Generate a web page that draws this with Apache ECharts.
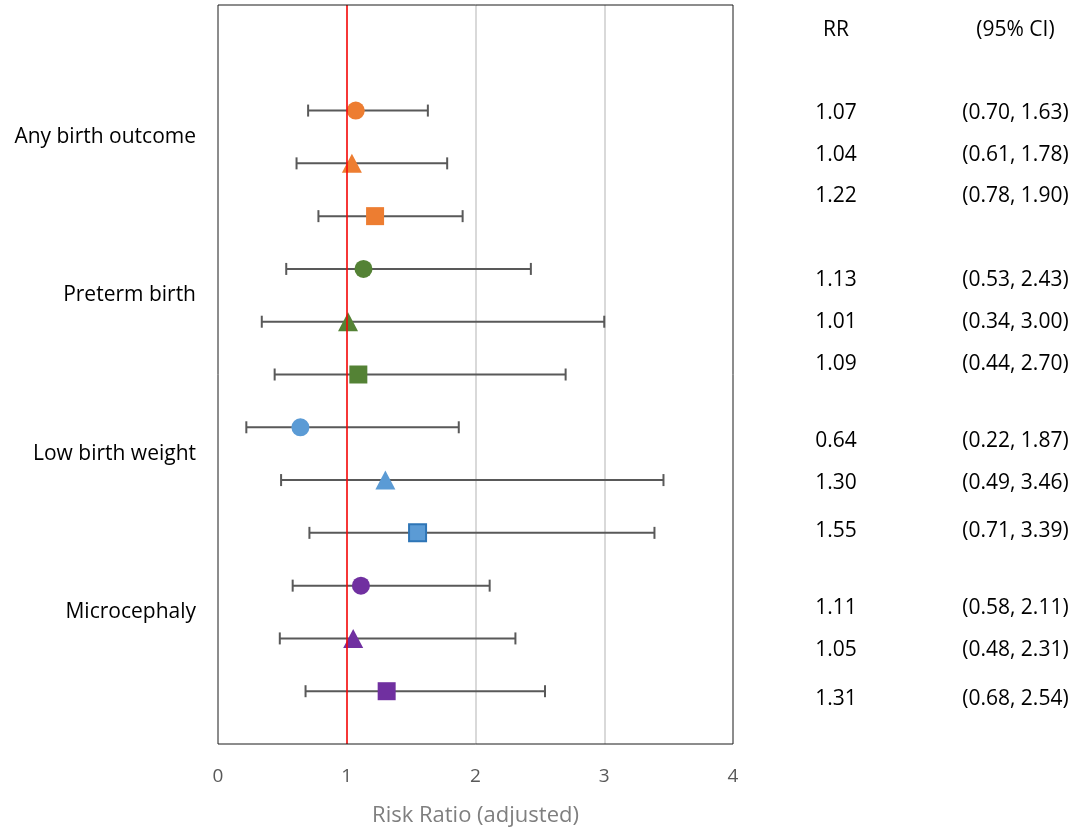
<!DOCTYPE html>
<html>
<head>
<meta charset="utf-8">
<script src="https://cdn.jsdelivr.net/npm/echarts@6/dist/echarts.min.js"></script>
<style>
html,body{margin:0;padding:0;background:#fff}
#main{width:1078px;height:832px}
</style>
</head>
<body>
<div id="main"></div>
<script>
// forest plot: risk ratios with 95% CI
var groups = ['Any birth outcome', 'Preterm birth', 'Low birth weight', 'Microcephaly'];
var groupPos = [11.5, 8.5, 5.5, 2.5];
var rowPos = [12, 11, 10, 9, 8, 7, 6, 5, 4, 3, 2, 1];
var rr    = [1.07, 1.04, 1.22, 1.13, 1.01, 1.09, 0.64, 1.30, 1.55, 1.11, 1.05, 1.31];
var lower = [0.70, 0.61, 0.78, 0.53, 0.34, 0.44, 0.22, 0.49, 0.71, 0.58, 0.48, 0.68];
var upper = [1.63, 1.78, 1.90, 2.43, 3.00, 2.70, 1.87, 3.46, 3.39, 2.11, 2.31, 2.54];
var shapes = ['circle', 'triangle', 'rect'];
var colors = ['#ED7D31', '#548235', '#5B9BD5', '#7030A0'];
var xTicks = [0, 1, 2, 3, 4];
// vertical spots of the right-hand table text
var tablePos = [11.95, 11.16, 10.38, 8.79, 7.995, 7.2, 5.74, 4.945, 4.036, 2.58, 1.78, 0.85];
var headerPos = 13.53;

var FONT = '"Open Sans"';

var myChart = echarts.init(document.getElementById('main'));

function fmt(v) { return v.toFixed(2); }

var barData = [], pointData = [], tableData = [];
for (var i = 0; i < rr.length; i++) {
    var g = Math.floor(i / 3);
    var s = i % 3;
    barData.push([lower[i], upper[i], rowPos[i]]);
    var item = {
        value: [rr[i], rowPos[i]],
        symbol: shapes[s],
        symbolSize: s === 1 ? [20, 19] : 18,
        itemStyle: { color: colors[g], opacity: 1 }
    };
    if (g === 2 && s === 2) {
        item.itemStyle.borderColor = '#2E75B6';
        item.itemStyle.borderWidth = 2;
        item.symbolSize = 17;
    }
    pointData.push(item);
    tableData.push([0.188, tablePos[i], fmt(rr[i])]);
    tableData.push([0.79, tablePos[i], '(' + fmt(lower[i]) + ', ' + fmt(upper[i]) + ')']);
}
tableData.push([0.188, headerPos, 'RR']);
tableData.push([0.79, headerPos, '(95% CI)']);

var groupData = groups.map(function (name, k) { return [0, groupPos[k], name]; });

var option = {
    animation: false,
    grid: [
        { left: 218, top: 5, width: 515, height: 739, show: true, borderColor: '#1a1a1a', borderWidth: 1, z: 6 },
        { left: 780, top: 5, width: 298, height: 739 }
    ],
    xAxis: [{
        gridIndex: 0, type: 'value', min: 0, max: 4, interval: 1,
        axisLine: { show: false }, axisTick: { show: false },
        axisLabel: {
            margin: 23, fontFamily: FONT, fontSize: 19, color: '#595959',
            formatter: function (v) { return xTicks.indexOf(v) >= 0 ? String(v) : ''; }
        },
        splitLine: { show: true, showMinLine: false, showMaxLine: false, lineStyle: { color: '#D9D9D9', width: 2 } },
        name: 'Risk Ratio (adjusted)', nameLocation: 'middle', nameGap: 61,
        nameTextStyle: { fontFamily: FONT, fontSize: 22, color: '#7F7F7F' }
    }, {
        gridIndex: 1, type: 'value', min: 0, max: 1, show: false
    }],
    yAxis: [
        { gridIndex: 0, type: 'value', min: 0, max: 14, show: false },
        { gridIndex: 1, type: 'value', min: 0, max: 14, show: false }
    ],
    series: [{
        type: 'custom',
        name: 'ci',
        xAxisIndex: 0, yAxisIndex: 0,
        data: barData,
        renderItem: function (params, api) {
            var a = api.coord([api.value(0), api.value(2)]);
            var b = api.coord([api.value(1), api.value(2)]);
            var h = 6;
            var st = { stroke: '#595959', lineWidth: 2 };
            return {
                type: 'group',
                children: [
                    { type: 'line', shape: { x1: a[0], y1: a[1], x2: b[0], y2: b[1] }, style: st },
                    { type: 'line', shape: { x1: a[0], y1: a[1] - h, x2: a[0], y2: a[1] + h }, style: st },
                    { type: 'line', shape: { x1: b[0], y1: b[1] - h, x2: b[0], y2: b[1] + h }, style: st }
                ]
            };
        },
        z: 2
    }, {
        type: 'scatter',
        name: 'rr',
        xAxisIndex: 0, yAxisIndex: 0,
        data: pointData,
        z: 3
    }, {
        // reference line at RR = 1, drawn over the markers
        type: 'line',
        name: 'ref',
        xAxisIndex: 0, yAxisIndex: 0,
        data: [],
        markLine: {
            silent: true, symbol: 'none', label: { show: false },
            lineStyle: { color: '#FF0000', width: 1.5, type: 'solid' },
            data: [{ xAxis: 1 }]
        },
        z: 5
    }, {
        type: 'custom',
        name: 'groups',
        xAxisIndex: 0, yAxisIndex: 0,
        data: groupData,
        clip: false,
        renderItem: function (params, api) {
            var p = api.coord([api.value(0), api.value(1)]);
            return {
                type: 'text',
                style: {
                    x: p[0] - 22, y: p[1], text: groupData[params.dataIndex][2],
                    align: 'right', verticalAlign: 'middle',
                    font: '21px ' + FONT, fill: '#000'
                }
            };
        }
    }, {
        type: 'custom',
        name: 'table',
        xAxisIndex: 1, yAxisIndex: 1,
        data: tableData,
        clip: false,
        renderItem: function (params, api) {
            var p = api.coord([api.value(0), api.value(1)]);
            return {
                type: 'text',
                style: {
                    x: p[0], y: p[1], text: tableData[params.dataIndex][2],
                    align: 'center', verticalAlign: 'middle',
                    font: '21px ' + FONT, fill: '#000'
                }
            };
        }
    }]
};
myChart.setOption(option);
</script>
</body>
</html>
